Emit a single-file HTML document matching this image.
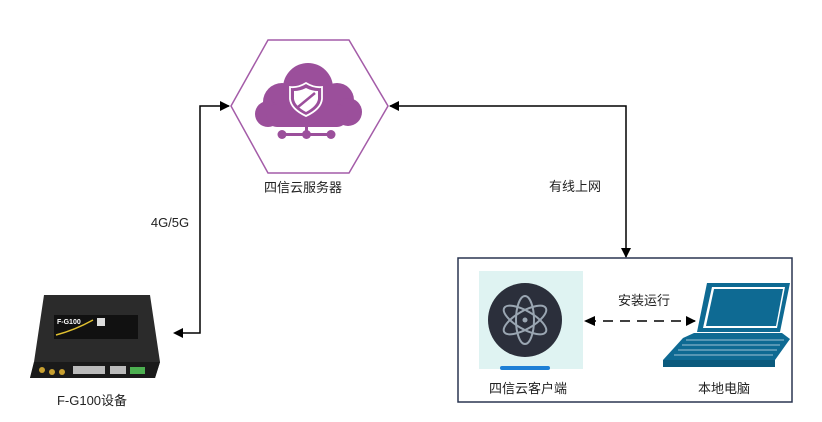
<!DOCTYPE html>
<html><head><meta charset="utf-8"><style>
body{margin:0;background:#fff;}
svg{display:block;font-family:"Liberation Sans","Noto Sans CJK SC",sans-serif;}
</style></head><body>
<svg width="822" height="422" viewBox="0 0 822 422">
<defs>
<marker id="a" markerWidth="10" markerHeight="10" refX="9" refY="5" orient="auto" markerUnits="userSpaceOnUse"><path d="M0,0 L10,5 L0,10 z" fill="#000"/></marker>
</defs>
<polygon points="268,40 349,40 388,106 349,173 268,173 231,106" fill="#fff" stroke="#a45ca8" stroke-width="1.5"/>
<g fill="#9b4f9b">
<circle cx="282" cy="102" r="19"/><circle cx="308" cy="88" r="25"/><circle cx="337" cy="100" r="17"/><circle cx="348" cy="112" r="14"/><circle cx="268" cy="114" r="13"/>
<rect x="266" y="104" width="82" height="23" rx="11"/>
<rect x="280" y="133" width="52" height="3"/><rect x="305" y="124" width="3" height="11"/>
<circle cx="282" cy="134.5" r="4.5"/><circle cx="306.5" cy="134.5" r="4.5"/><circle cx="331" cy="134.5" r="4.5"/>
</g>
<path d="M306,83 Q314,88 322,87 L322,99 Q321,109 306,116 Q291,109 290,99 L290,87 Q298,88 306,83z" fill="none" stroke="#fff" stroke-width="1.8"/>
<path d="M306,88 Q312,91 318,91 L318,99 Q317,106 306,112 Q295,106 294,99 L294,91 Q300,91 306,88z" fill="#fff"/>
<line x1="298" y1="107" x2="315" y2="93" stroke="#9b4f9b" stroke-width="2.5"/>
<text x="303" y="192" font-size="13" text-anchor="middle" fill="#222">四信云服务器</text>
<polyline points="175,333 200,333 200,106 229,106" fill="none" stroke="#000" stroke-width="1.5" marker-end="url(#a)"/>
<path d="M173,333 L183,328 L183,338z" fill="#000"/>
<polyline points="390,106 626,106 626,257" fill="none" stroke="#000" stroke-width="1.5" marker-end="url(#a)"/>
<path d="M389,106 L399,101 L399,111z" fill="#000"/>
<text x="170" y="227" font-size="13" text-anchor="middle" fill="#222">4G/5G</text>
<text x="575" y="191" font-size="13" text-anchor="middle" fill="#222">有线上网</text>
<rect x="458" y="258" width="334" height="144" fill="#fff" stroke="#2a3550" stroke-width="1.5"/>
<rect x="479" y="271" width="104" height="98" fill="#dff3f2"/>
<circle cx="525" cy="320" r="37" fill="#2b2f3b"/>
<g fill="none" stroke="#9aa6b2" stroke-width="2">
<ellipse cx="525" cy="320" rx="24" ry="9" transform="rotate(30 525 320)"/>
<ellipse cx="525" cy="320" rx="24" ry="9" transform="rotate(-30 525 320)"/>
<ellipse cx="525" cy="320" rx="24" ry="9" transform="rotate(90 525 320)"/>
</g>
<circle cx="525" cy="320" r="2.5" fill="#9aa6b2"/>
<rect x="500" y="366" width="50" height="4" rx="2" fill="#1e7fd6"/>
<line x1="586" y1="321" x2="695" y2="321" stroke="#000" stroke-width="1.5" stroke-dasharray="10,7" marker-end="url(#a)"/>
<path d="M584,321 L595,316 L595,326z" fill="#000"/>
<text x="644" y="305" font-size="13" text-anchor="middle" fill="#222">安装运行</text>
<polygon points="707,283 790,283 780,332 697,332" fill="#0e6a93"/>
<polygon points="712,287 785,287 777,328 703,328" fill="#fff"/>
<polygon points="714,289 783,289 776,326 706,326" fill="#0e6a93"/>
<polygon points="694,333 782,333 790,339 775,360 663,360 683,338" fill="#0e6a93"/>
<g stroke="#fff" stroke-width="0.8" opacity=".8">
<line x1="686" y1="340" x2="784" y2="340"/><line x1="682" y1="345" x2="780" y2="345"/><line x1="678" y1="350" x2="777" y2="350"/><line x1="674" y1="355" x2="773" y2="355"/>
</g>
<polygon points="663,360 775,360 775,367 663,367" fill="#0b5a7d"/>
<text x="528" y="393" font-size="13" text-anchor="middle" fill="#222">四信云客户端</text>
<text x="724" y="393" font-size="13" text-anchor="middle" fill="#222">本地电脑</text>
<polygon points="44,295 150,295 160,362 155,378 30,378 34,362" fill="#2b2b2b"/>
<polygon points="34,362 160,362 155,378 30,378" fill="#1a1a1a"/>
<rect x="54" y="315" width="84" height="24" fill="#111"/>
<text x="57" y="324" font-size="7" font-weight="bold" fill="#fff">F-G100</text>
<rect x="97" y="318" width="8" height="8" fill="#ddd"/>
<path d="M56,335 Q75,330 93,320" stroke="#e0c030" stroke-width="1.5" fill="none"/>
<rect x="73" y="366" width="32" height="8" fill="#bbb"/>
<rect x="110" y="366" width="16" height="8" fill="#bbb"/>
<rect x="130" y="367" width="15" height="7" fill="#4caf50"/>
<circle cx="42" cy="370" r="3" fill="#c8a030"/><circle cx="52" cy="372" r="3" fill="#c8a030"/><circle cx="62" cy="372" r="3" fill="#c8a030"/>
<text x="92" y="405" font-size="13" text-anchor="middle" fill="#222">F-G100设备</text>
</svg>
</body></html>
